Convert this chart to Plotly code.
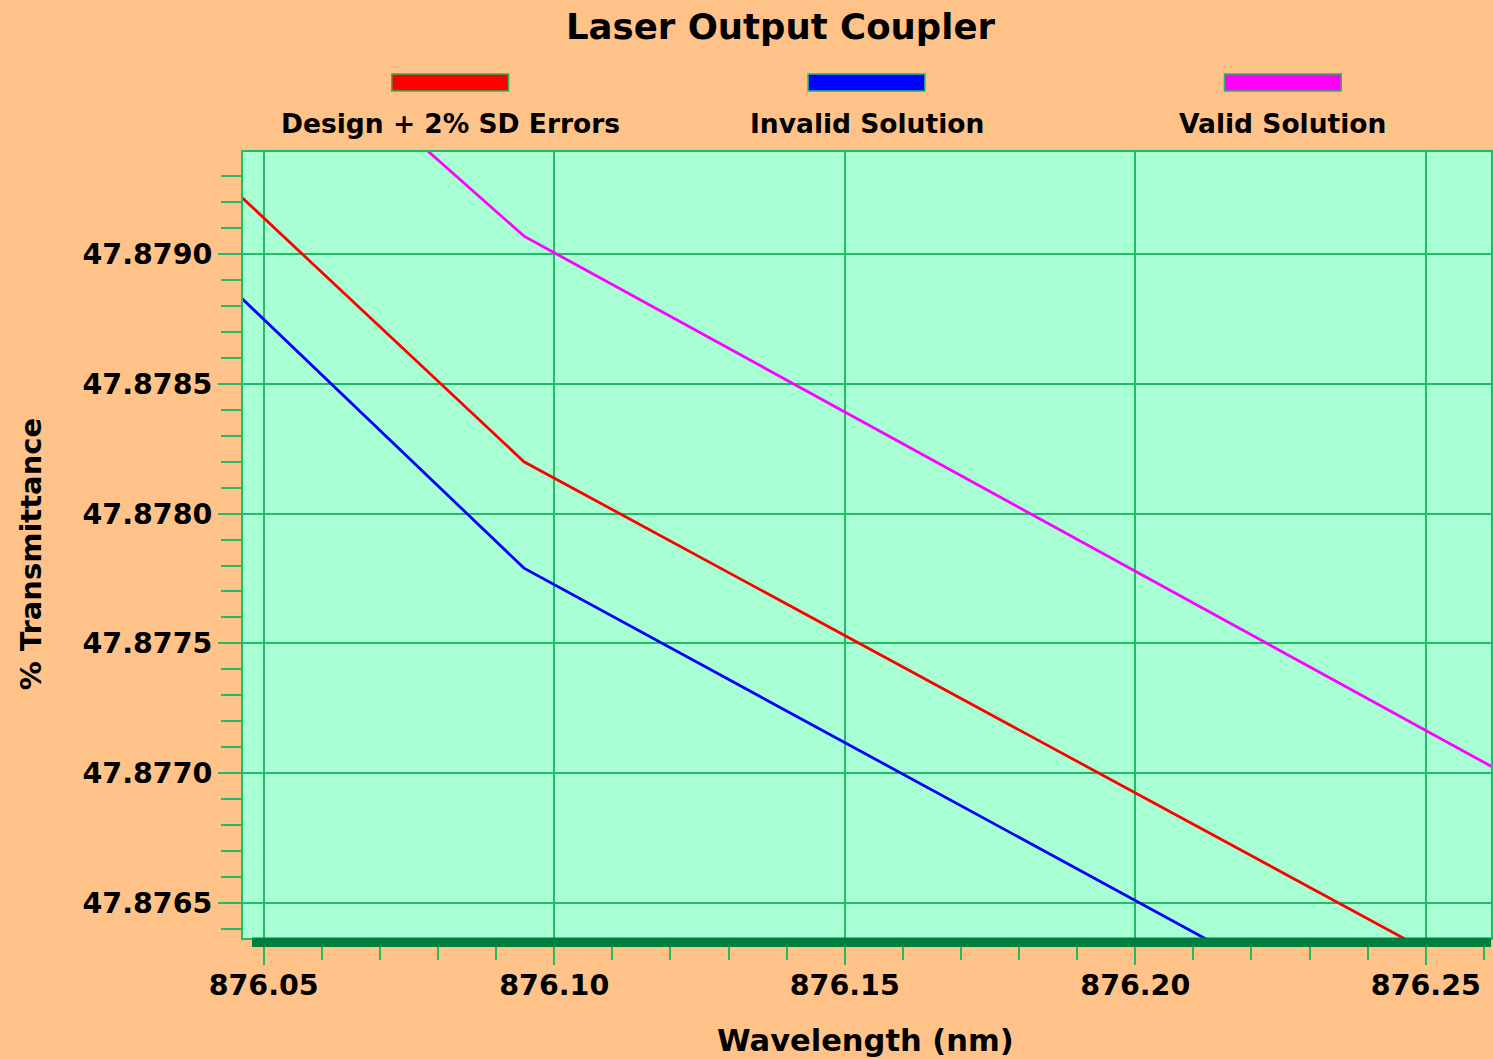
import plotly.graph_objects as go

# ---- data ----
wavelength = [876.000, 876.0948, 876.300]
design_2pct_sd = [47.88019, 47.87820, 47.87571]
invalid_solution = [47.87982, 47.87779, 47.87529]
valid_solution = [47.88095, 47.87907, 47.87655]

series_names = ["Design + 2% SD Errors", "Invalid Solution", "Valid Solution"]
series_values = [design_2pct_sd, invalid_solution, valid_solution]
series_colors = ["#FF0000", "#0000FF", "#FF00FF"]

x_range = [876.04644, 876.26122]
y_range = [47.8763639, 47.8793944]

PAPER = "#FFC389"
PLOT_BG = "#A8FFD4"
GRID = "#22BB66"
BAR = "#008040"
FONT = "DejaVu Sans"

W, H = 1493, 1059
ML, MR, MT, MB = 243, 0, 152, 121
PW, PH = W - ML - MR, H - MT - MB

fig = go.Figure()
for name, vals, col in zip(series_names, series_values, series_colors):
    fig.add_trace(go.Scatter(x=wavelength, y=vals, mode="lines", name=name,
                             line=dict(color=col, width=2.8), showlegend=False))

def px_x(p):
    return (p - ML) / PW

def px_y(p):
    return (H - MB - p) / PH

shapes = []
annotations = []
# legend swatches + labels
legend_left_px = [392, 809, 1226]
for name, col, lx in zip(series_names, series_colors, legend_left_px):
    shapes.append(dict(type="rect", xref="paper", yref="paper",
                       x0=px_x(lx), x1=px_x(lx + 117), y0=px_y(91), y1=px_y(74),
                       fillcolor=col, line=dict(color="#22BB66", width=1.5)))
    annotations.append(dict(xref="paper", yref="paper", x=px_x(lx + 58.5), y=px_y(123),
                            text="<b>" + name + "</b>", showarrow=False,
                            xanchor="center", yanchor="middle",
                            font=dict(family=FONT, size=26.5, color="black")))

# thick dark bar under the plot area
shapes.append(dict(type="rect", xref="paper", yref="paper",
                   x0=px_x(252), x1=1.0, y0=px_y(947), y1=px_y(937.5),
                   fillcolor=BAR, line=dict(width=0), layer="above"))

# title
annotations.append(dict(xref="paper", yref="paper", x=px_x(781), y=px_y(26),
                        text="<b>Laser Output Coupler</b>", showarrow=False,
                        xanchor="center", yanchor="middle",
                        font=dict(family=FONT, size=35.5, color="black")))
# axis titles
annotations.append(dict(xref="paper", yref="paper", x=px_x(866), y=px_y(1040),
                        text="<b>Wavelength (nm)</b>", showarrow=False,
                        xanchor="center", yanchor="middle",
                        font=dict(family=FONT, size=30.5, color="black")))
annotations.append(dict(xref="paper", yref="paper", x=px_x(31), y=px_y(554),
                        text="<b>% Transmittance</b>", showarrow=False, textangle=-90,
                        xanchor="center", yanchor="middle",
                        font=dict(family=FONT, size=29, color="black")))

fig.update_layout(
    width=W, height=H,
    margin=dict(l=ML, r=MR, t=MT, b=MB, pad=0),
    paper_bgcolor=PAPER, plot_bgcolor=PLOT_BG,
    shapes=shapes, annotations=annotations,
    font=dict(family=FONT, size=27, color="black"),
)
fig.update_xaxes(
    range=x_range, dtick=0.05, tick0=876.0, tickformat=".2f",
    showgrid=True, gridcolor=GRID, gridwidth=2,
    showline=True, linecolor=GRID, linewidth=2, mirror=True,
    ticks="outside", ticklen=25, tickwidth=2, tickcolor=GRID,
    minor=dict(dtick=0.01, tick0=876.0, ticks="outside", ticklen=20, tickwidth=2,
               tickcolor=GRID, showgrid=False),
    tickfont=dict(family=FONT, size=28.5, color="black", weight="bold"),
    ticklabelstandoff=-4,
    zeroline=False,
)
fig.update_yaxes(
    range=y_range, dtick=0.0005, tick0=47.8765, tickformat=".4f",
    showgrid=True, gridcolor=GRID, gridwidth=2,
    showline=True, linecolor=GRID, linewidth=2, mirror=True,
    ticks="outside", ticklen=23, tickwidth=2, tickcolor=GRID,
    minor=dict(dtick=0.0001, tick0=47.8765, ticks="outside", ticklen=20, tickwidth=2,
               tickcolor=GRID, showgrid=False),
    tickfont=dict(family=FONT, size=28.5, color="black", weight="bold"),
    zeroline=False,
)

fig.write_html("out.html", config={"displayModeBar": False},
               post_script="document.body.style.margin='0';")
